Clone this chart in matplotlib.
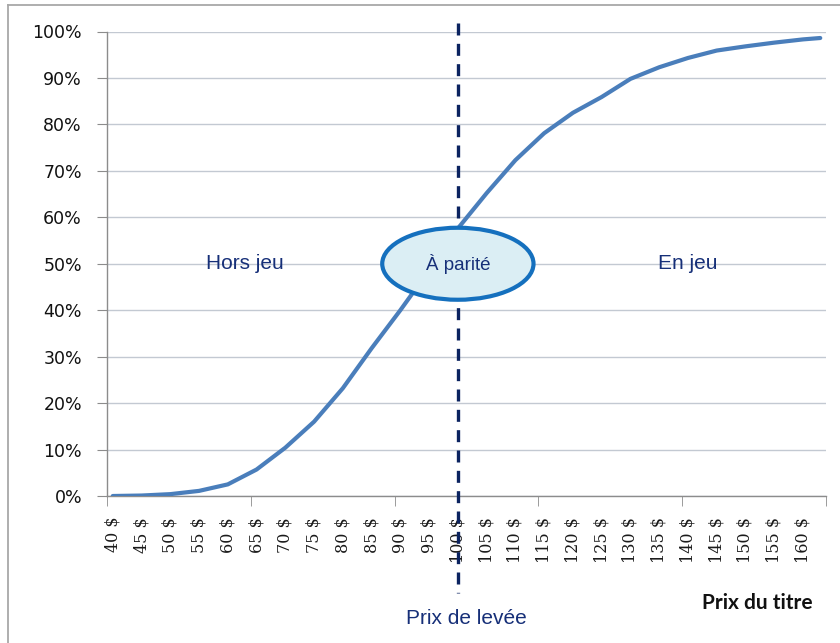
import matplotlib
matplotlib.use("Agg")
import matplotlib.pyplot as plt
from matplotlib.patches import Ellipse
from matplotlib.ticker import PercentFormatter, FixedLocator
from matplotlib.lines import Line2D

# prix du titre ($) et probabilité de finir en jeu
prix = [40, 45, 50, 55, 60, 65, 70, 75, 80, 85, 90, 95, 100,
        105, 110, 115, 120, 125, 130, 135, 140, 145, 150, 155, 160, 163]
proba = [0.000, 0.001, 0.004, 0.011, 0.025, 0.057, 0.104, 0.160, 0.232, 0.318,
         0.400, 0.486, 0.576, 0.652, 0.723, 0.781, 0.825, 0.859, 0.898, 0.923,
         0.943, 0.959, 0.968, 0.976, 0.983, 0.986]

etiquettes_x = [f"{p} $" for p in range(40, 161, 5)]
positions_x = list(range(40, 161, 5))
prix_levee = 100

zones = ["Hors jeu", "À parité", "En jeu"]

bleu_nuit = "#162f78"

fig = plt.figure(figsize=(8.4, 6.43), dpi=100)
ax = fig.add_axes([107 / 840, 1 - 496 / 643, 719 / 840, 464.5 / 643])

# cadre gris autour du graphique
fig.add_artist(Line2D([8 / 840, 1.0], [1 - 5 / 643] * 2, color="#a8a8a8", lw=1.3))
fig.add_artist(Line2D([8 / 840] * 2, [0.0, 1 - 5 / 643], color="#a8a8a8", lw=1.3))

ax.set_xlim(39.0, 164.0)
ax.set_ylim(0, 1)

ax.yaxis.set_major_locator(FixedLocator([i / 10 for i in range(11)]))
ax.yaxis.set_major_formatter(PercentFormatter(1.0, decimals=0))
ax.grid(axis="y", color="#c3c9d2", lw=1.0)
ax.set_axisbelow(True)

ax.set_xticks(positions_x)
ax.set_xticklabels(etiquettes_x, rotation=90, family="DejaVu Serif",
                   fontsize=11.5, color="#1a1a1a")
ax.set_xticks([39.0 + 25 * k for k in range(6)], minor=True)
ax.tick_params(axis="x", which="major", length=0, pad=15)
ax.tick_params(axis="x", which="minor", length=7, color="#8c8c8c", direction="out")
ax.tick_params(axis="y", length=7, color="#8c8c8c", pad=11, labelsize=12.5,
               labelcolor="#111111")

for s in ["top", "right"]:
    ax.spines[s].set_visible(False)
for s in ["left", "bottom"]:
    ax.spines[s].set_color("#8c8c8c")
    ax.spines[s].set_linewidth(1.0)

ax.plot(prix, proba, color="#4a7ebb", lw=3.0, solid_capstyle="round", zorder=3)

# ligne du prix de levée
ax.plot([prix_levee, prix_levee], [1.018, -0.209], color="#0b2360", lw=2.4,
        dashes=(3.6, 2.5), clip_on=False, zorder=4)

ell = Ellipse((prix_levee, 0.50), width=26.3, height=0.155, facecolor="#dbeef4",
              edgecolor="#1570be", lw=3.0, clip_on=False, zorder=5)
ax.add_patch(ell)

ax.text(prix_levee, 0.50, zones[1], ha="center", va="center", fontsize=13.5,
        family="Liberation Sans", color=bleu_nuit, zorder=6)
ax.text(63.0, 0.50, zones[0], ha="center", va="center", fontsize=15,
        family="Liberation Sans", color=bleu_nuit)
ax.text(140.0, 0.50, zones[2], ha="center", va="center", fontsize=15,
        family="Liberation Sans", color=bleu_nuit)

fig.text(466 / 840, 1 - 619 / 643, "Prix de levée", ha="center", va="center",
         fontsize=15, family="Liberation Sans", color=bleu_nuit)
fig.text(757 / 840, 1 - 603 / 643, "Prix du titre", ha="center", va="center",
         fontsize=15, family="Lato", fontweight="bold", color="#111111")

fig.savefig("out.png", dpi=100)
